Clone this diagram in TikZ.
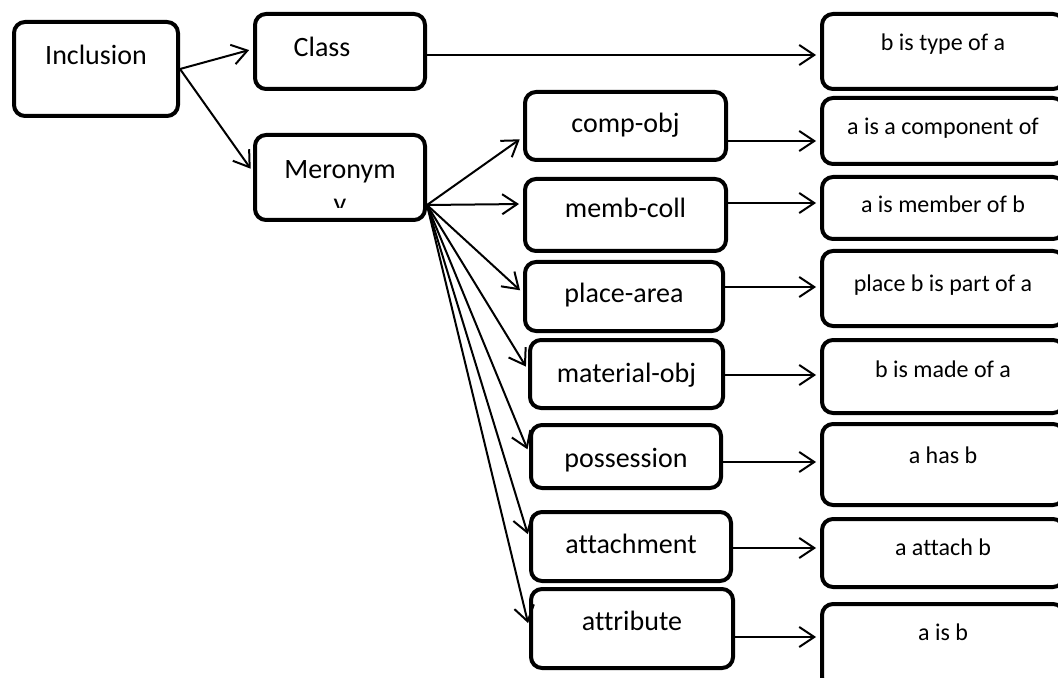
\documentclass[tikz,border=0pt]{standalone}
\usepackage{fontspec}
\setmainfont{Carlito}[Ligatures=NoCommon]
\usetikzlibrary{arrows.meta}

\newcommand\boxfont{\fontsize{14}{17}\selectfont}
\newcommand\notefont{\fontsize{12}{14.5}\selectfont}

\tikzset{every picture/.style={line width=0.75pt}}
\tikzset{
  relbox/.style={draw, line width=2pt, rounded corners=5.5pt, inner sep=2pt, font=\boxfont},
  notebox/.style={relbox, font=\notefont},
  % moves the baseline #1 pt below the box centre
  lift/.code={\pgfmathsetmacro\liftht{8+#1}\pgfmathsetmacro\liftdp{8-#1}%
    \edef\liftopts{text height=\liftht pt,text depth=\liftdp pt}%
    \expandafter\tikzset\expandafter{\liftopts}},
  link/.style={line width=1pt, shorten >=2pt, -{Straight Barb[length=7.5pt,width=10pt]}}
}

\begin{document}
\begin{tikzpicture}[x=0.5pt,y=0.5pt,yscale=-1,xscale=1]
\clip (0,0) rectangle (1058,678);

% Left boxes
\node[relbox, minimum width=82pt, minimum height=47pt, lift=-2] (incl) at (96,69) {Inclusion};
\node[relbox, minimum width=85pt, minimum height=37.5pt, lift=2.75] (cls) at (340,51.5) {Class\hspace*{18pt}};
\node[relbox, minimum width=85pt, minimum height=42.5pt] (mero) at (340,177.5) {};
% word wraps and is cut off inside the box
\begin{scope}
\clip (mero.north west) rectangle (mero.east |- 0,208);
\node[font=\boxfont, align=center, inner sep=0pt, anchor=north] (merotxt) at (340,160) {Meronym\\y};
\end{scope}

% Middle column
\foreach \nm/\cx/\cy/\w/\h/\lf/\lbl in {comp/625.5/126/100.5/34/3.5/comp-obj, memb/625.5/215/100.5/36/1.5/memb-coll, place/624/296.5/99/34.5/2.75/place-area, matl/626.5/374/96.5/34/4/material-obj, poss/626/456.5/95/31.5/5.25/possession, attach/631/546.5/100/34.5/3.25/attachment, attr/632/628.5/101/39.5/0.75/attribute}
  \node[relbox, minimum width=\w pt, minimum height=\h pt, lift=\lf] (\nm) at (\cx,\cy) {\lbl};

% Right column
\foreach \nm/\cy/\h/\lf/\lbl in {rtype/51.5/37.5/-0.25/b is type of a, rcomp/131/33/2/a is a component of, rmemb/208/31/2.5/a is member of b, rplace/288.5/37.5/1.75/place b is part of a, rmatl/376.5/36.5/0.25/b is made of a, rposs/464.5/40.5/-0.75/a has b, rattach/553/34/1/a attach b, rattr/646/42/-3/a is b}
  \node[notebox, minimum width=121pt, minimum height=\h pt, lift=\lf] (\nm) at (943,\cy) {\lbl};

% Arrows
\draw[link] (incl.east) -- (cls.west |- 0,49);
\draw[link] (incl.east) -- (mero.west |- 0,172);
\coordinate (hub) at (mero.east |- 0,205);
\foreach \nm/\ty in {comp/137, memb/204, place/293, matl/370, poss/453, attach/538, attr/627}
  \draw[link] (hub) -- (\nm.west |- 0,\ty);
\foreach \src/\dst/\ay in {cls/rtype/55, comp/rcomp/141, memb/rmemb/203, place/rplace/287, matl/rmatl/375, poss/rposs/462, attach/rattach/548, attr/rattr/637}
  \draw[link] (\src.east |- 0,\ay) -- (\dst.west |- 0,\ay);

\end{tikzpicture}
\end{document}
